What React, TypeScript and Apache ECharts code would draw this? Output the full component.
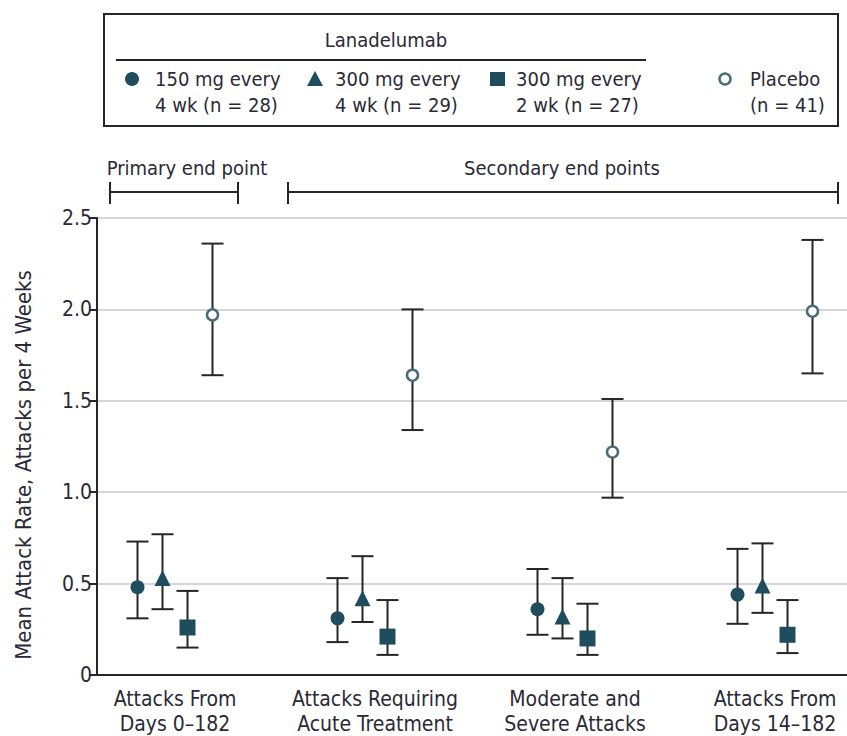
import React, { useEffect, useRef } from "react";
import * as echarts from "echarts";

const categories = [
  "Attacks From\nDays 0–182",
  "Attacks Requiring\nAcute Treatment",
  "Moderate and\nSevere Attacks",
  "Attacks From\nDays 14–182",
];
const yTicks = [0, 0.5, 1.0, 1.5, 2.0, 2.5];

const mean150q4 = [0.48, 0.31, 0.36, 0.44];
const low150q4 = [0.31, 0.18, 0.22, 0.28];
const high150q4 = [0.73, 0.53, 0.58, 0.69];

const mean300q4 = [0.53, 0.42, 0.32, 0.49];
const low300q4 = [0.36, 0.29, 0.20, 0.34];
const high300q4 = [0.77, 0.65, 0.53, 0.72];

const mean300q2 = [0.26, 0.21, 0.20, 0.22];
const low300q2 = [0.15, 0.11, 0.11, 0.12];
const high300q2 = [0.46, 0.41, 0.39, 0.41];

const meanPlacebo = [1.97, 1.64, 1.22, 1.99];
const lowPlacebo = [1.64, 1.34, 0.97, 1.65];
const highPlacebo = [2.36, 2.0, 1.51, 2.38];

const FONT = "'DejaVu Sans Condensed', 'Liberation Sans Narrow', sans-serif";
const TEXT = "#2a2a36";
const TEAL = "#1f4d5e";
const BAR = "#262626";

export default function App() {
  const ref = useRef<HTMLDivElement>(null);
  useEffect(() => {
    if (!ref.current) return;
    const chart = echarts.init(ref.current, undefined, { renderer: "svg" });
    const offsets = [-0.1875, -0.0625, 0.0625, 0.1875];
    const groups = [
      { name: "150 mg every 4 wk", mean: mean150q4, low: low150q4, high: high150q4, symbol: "circle", size: 14, color: TEAL, border: TEAL, bw: 0 },
      { name: "300 mg every 4 wk", mean: mean300q4, low: low300q4, high: high300q4, symbol: "triangle", size: 16, color: TEAL, border: TEAL, bw: 0 },
      { name: "300 mg every 2 wk", mean: mean300q2, low: low300q2, high: high300q2, symbol: "rect", size: 16, color: TEAL, border: TEAL, bw: 0 },
      { name: "Placebo", mean: meanPlacebo, low: lowPlacebo, high: highPlacebo, symbol: "circle", size: 11, color: "#ffffff", border: "#4a6b78", bw: 2.5 },
    ];
    const series: any[] = [];
    groups.forEach((g, gi) => {
      series.push({
        type: "custom",
        name: g.name + " CI",
        data: g.mean.map((_, i) => [i + offsets[gi], g.low[i], g.high[i]]),
        encode: { x: 0, y: [1, 2] },
        z: 3,
        renderItem: (params: any, api: any) => {
          const x = api.value(0);
          const lo = api.coord([x, api.value(1)]);
          const hi = api.coord([x, api.value(2)]);
          const hw = 11;
          const st = { stroke: BAR, lineWidth: 2 };
          return {
            type: "group",
            children: [
              { type: "line", shape: { x1: lo[0], y1: lo[1], x2: hi[0], y2: hi[1] }, style: st },
              { type: "line", shape: { x1: lo[0] - hw, y1: lo[1], x2: lo[0] + hw, y2: lo[1] }, style: st },
              { type: "line", shape: { x1: hi[0] - hw, y1: hi[1], x2: hi[0] + hw, y2: hi[1] }, style: st },
            ],
          };
        },
      });
    });
    groups.forEach((g, gi) => {
      series.push({
        type: "scatter",
        name: g.name,
        data: g.mean.map((v, i) => [i + offsets[gi], v]),
        symbol: g.symbol,
        symbolSize: g.size,
        z: 5,
        itemStyle: { color: g.color, borderColor: g.border, borderWidth: g.bw, opacity: 1 },
      });
    });

    const legendText = (text: string, x: number) => ({
      type: "text",
      style: { text, x, y: 66, fill: TEXT, font: `20px ${FONT}`, lineHeight: 26, align: "left", verticalAlign: "top" },
    });
    const hline = (x1: number, x2: number, y: number) => ({
      type: "line",
      shape: { x1, y1: y, x2, y2: y },
      style: { stroke: BAR, lineWidth: 2 },
    });
    const vline = (x: number) => ({
      type: "line",
      shape: { x1: x, y1: 182, x2: x, y2: 204 },
      style: { stroke: BAR, lineWidth: 2 },
    });

    chart.setOption({
      animation: false,
      grid: { left: 97, right: 0, top: 218, bottom: 61, containLabel: false },
      xAxis: {
        type: "value",
        min: -0.39,
        max: 3.36,
        splitLine: { show: false },
        axisTick: { show: false },
        axisLine: { show: true, lineStyle: { color: BAR, width: 2 } },
        axisLabel: {
          customValues: [0, 1, 2, 3],
          formatter: (v: number) => categories[Math.round(v)],
          fontSize: 21,
          fontFamily: FONT,
          color: TEXT,
          lineHeight: 25,
          margin: 11,
        },
      },
      yAxis: {
        type: "value",
        min: 0,
        max: 2.5,
        interval: 0.5,
        axisLine: { show: true, onZero: false, lineStyle: { color: BAR, width: 2 } },
        axisTick: { show: true, length: 8, lineStyle: { color: BAR, width: 2 } },
        splitLine: { show: true, lineStyle: { color: "#d6d6d6", width: 2 } },
        axisLabel: {
          formatter: (v: number) => (v === 0 ? "0" : yTicks.find((t) => Math.abs(t - v) < 1e-9)!.toFixed(1)),
          fontSize: 21,
          fontFamily: FONT,
          color: TEXT,
          margin: 5,
        },
      },
      graphic: [
        { type: "rect", shape: { x: 104, y: 14, width: 734, height: 112 }, style: { fill: "none", stroke: BAR, lineWidth: 2 } },
        { type: "text", style: { text: "Lanadelumab", x: 386, y: 40, fill: TEXT, font: `20px ${FONT}`, align: "center", verticalAlign: "middle" } },
        hline(116, 646, 60),
        { type: "circle", shape: { cx: 132, cy: 79, r: 7 }, style: { fill: TEAL } },
        { type: "polygon", shape: { points: [[315, 71], [323, 86], [307, 86]] }, style: { fill: TEAL } },
        { type: "rect", shape: { x: 490, y: 72, width: 15, height: 14 }, style: { fill: TEAL } },
        { type: "circle", shape: { cx: 725, cy: 79, r: 5.5 }, style: { fill: "#fff", stroke: "#4a6b78", lineWidth: 2.5 } },
        legendText("150 mg every\n4 wk (n = 28)", 155),
        legendText("300 mg every\n4 wk (n = 29)", 335),
        legendText("300 mg every\n2 wk (n = 27)", 516),
        legendText("Placebo\n(n = 41)", 750),
        { type: "text", style: { text: "Primary end point", x: 187, y: 168, fill: TEXT, font: `20px ${FONT}`, align: "center", verticalAlign: "middle" } },
        { type: "text", style: { text: "Secondary end points", x: 562, y: 168, fill: TEXT, font: `20px ${FONT}`, align: "center", verticalAlign: "middle" } },
        hline(110, 238, 192),
        vline(110),
        vline(238),
        hline(288, 838, 192),
        vline(288),
        vline(838),
        {
          type: "text",
          x: 23,
          y: 465,
          rotation: Math.PI / 2,
          style: { text: "Mean Attack Rate, Attacks per 4 Weeks", x: 0, y: 0, fill: TEXT, font: `22px ${FONT}`, align: "center", verticalAlign: "middle" },
        },
      ],
      series,
    });
    return () => chart.dispose();
  }, []);
  return <div ref={ref} style={{ position: "fixed", left: 0, top: 0, width: 847, height: 736, background: "#fff" }} />;
}
